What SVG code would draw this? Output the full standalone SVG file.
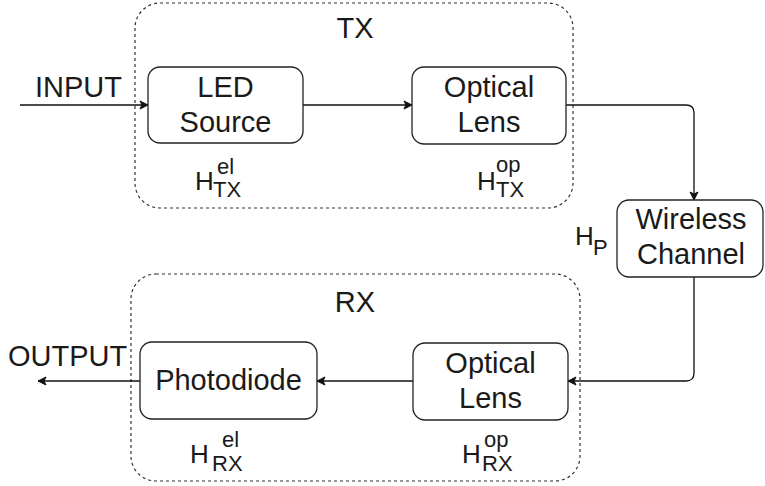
<svg xmlns="http://www.w3.org/2000/svg" width="765" height="486" viewBox="0 0 765 486">
<defs>
<marker id="arr" markerWidth="10" markerHeight="10" refX="9" refY="5" orient="auto" markerUnits="userSpaceOnUse">
<path d="M1,1 L9,5 L1,9 L3,5 Z" fill="#111" stroke="#111" stroke-width="1"/>
</marker>
</defs>
<style>
.t{font-family:"Liberation Sans",Arial,sans-serif;fill:#1a1a1a}
.big{font-size:29px}
.lbl{font-size:26px}
.sm{font-size:22px}
.box{fill:#fff;stroke:#222;stroke-width:1.3}
.grp{fill:none;stroke:#333;stroke-width:1.2;stroke-dasharray:3 3}
.edge{fill:none;stroke:#111;stroke-width:1.3}
</style>
<rect width="765" height="486" fill="#fff"/>
<g id="tx-group">
<rect class="grp" x="135" y="3" width="438" height="205" rx="25" ry="25"/>
<text class="t big" x="355" y="38" text-anchor="middle">TX</text>
</g>
<g id="rx-group">
<rect class="grp" x="131" y="274" width="449" height="207" rx="25" ry="25"/>
<text class="t big" x="355" y="312" text-anchor="middle">RX</text>
</g>
<g id="connectors">
<line class="edge" x1="20" y1="105" x2="148" y2="105" marker-end="url(#arr)"/>
<line class="edge" x1="303" y1="105" x2="412" y2="105" marker-end="url(#arr)"/>
<path class="edge" d="M566,105 H686 Q694,105 694,113 V200" marker-end="url(#arr)"/>
<path class="edge" d="M694,277 V373 Q694,381 686,381 H568" marker-end="url(#arr)"/>
<line class="edge" x1="413" y1="381" x2="317" y2="381" marker-end="url(#arr)"/>
<line class="edge" x1="140" y1="381" x2="38" y2="381" marker-end="url(#arr)"/>
</g>
<g id="input-label"><text class="t big" x="35" y="97">INPUT</text></g>
<g id="output-label"><text class="t big" x="8" y="366">OUTPUT</text></g>
<g id="led-source">
<rect class="box" x="148" y="67" width="155" height="76" rx="12" ry="12"/>
<text class="t big" x="225.5" y="97" text-anchor="middle">LED</text>
<text class="t big" x="225.5" y="132" text-anchor="middle">Source</text>
</g>
<g id="h-tx-el">
<text class="t lbl" x="195" y="190">H</text>
<text class="t sm" x="213" y="197">TX</text>
<text class="t sm" x="217" y="174">el</text>
</g>
<g id="optical-lens-tx">
<rect class="box" x="412" y="67" width="154" height="77" rx="12" ry="12"/>
<text class="t big" x="489" y="97" text-anchor="middle">Optical</text>
<text class="t big" x="489" y="132" text-anchor="middle">Lens</text>
</g>
<g id="h-tx-op">
<text class="t lbl" x="477" y="190">H</text>
<text class="t sm" x="496" y="197">TX</text>
<text class="t sm" x="496" y="172">op</text>
</g>
<g id="wireless-channel">
<rect class="box" x="617" y="200" width="146" height="77" rx="12" ry="12"/>
<text class="t big" x="691" y="229" text-anchor="middle">Wireless</text>
<text class="t big" x="691" y="264" text-anchor="middle">Channel</text>
</g>
<g id="h-p">
<text class="t lbl" x="575" y="245">H</text>
<text class="t sm" x="593" y="255">P</text>
</g>
<g id="optical-lens-rx">
<rect class="box" x="413" y="343" width="155" height="77" rx="12" ry="12"/>
<text class="t big" x="490.5" y="373" text-anchor="middle">Optical</text>
<text class="t big" x="490.5" y="408" text-anchor="middle">Lens</text>
</g>
<g id="h-rx-op">
<text class="t lbl" x="462" y="463">H</text>
<text class="t sm" x="482" y="471">RX</text>
<text class="t sm" x="484" y="447">op</text>
</g>
<g id="photodiode">
<rect class="box" x="140" y="342" width="177" height="77" rx="12" ry="12"/>
<text class="t big" x="228.5" y="390" text-anchor="middle">Photodiode</text>
</g>
<g id="h-rx-el">
<text class="t lbl" x="190" y="463">H</text>
<text class="t sm" x="212" y="471">RX</text>
<text class="t sm" x="222" y="447">el</text>
</g>
</svg>
